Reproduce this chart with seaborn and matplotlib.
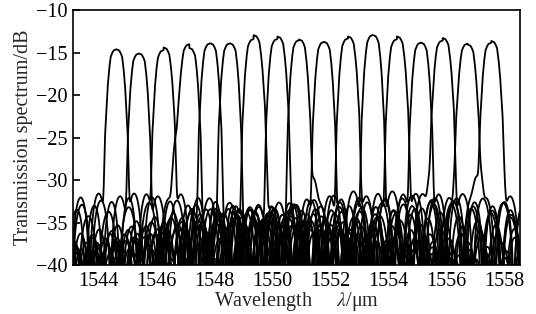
import numpy as np
import pandas as pd
import matplotlib
matplotlib.use("Agg")
import matplotlib.pyplot as plt
import seaborn as sns

# ---- data ----
channel_center_nm = [1544.61, 1545.39, 1546.24, 1547.13, 1547.85, 1548.53, 1549.35, 1550.17,
                     1550.92, 1551.78, 1552.61, 1553.47, 1554.30, 1555.13, 1555.88, 1556.74, 1557.56]
peak_db = [-14.7, -15.2, -14.8, -14.55, -13.96, -13.96, -13.45, -13.45,
           -13.6, -13.8, -13.4, -13.0, -13.5, -13.9, -13.8, -14.3, -14.0]
sidelobe_db = [-31.5, -31.8, -31.6, -32.0, -33.3, -33.3, -33.0, -32.8,
               -32.5, -32.2, -31.8, -31.2, -31.5, -31.6, -31.5, -32.0, -31.8]
sidelobe_period_nm = [0.62, 0.66, 0.60, 0.70, 0.64, 0.68, 0.62, 0.66,
                      0.70, 0.60, 0.64, 0.68, 0.66, 0.62, 0.70, 0.64, 0.66]
passband_offset_nm = [0.0, 0.10, 0.15, 0.20, 0.25, 0.30, 0.35, 0.39, 0.42, 0.45, 0.50]
passband_drop_db = [0.0, 0.15, 0.45, 0.9, 2.3, 4.3, 7.4, 10.3, 15.0, 22.0, 38.0]
left_shoulder_db = [-60, -60, -60, -24.0, -60, -60, -60, -60,
                    -60, -60, -60, -60, -60, -60, -28.5, -26.0, -31.0]
left_shoulder_nm = [0.4, 0.4, 0.4, 0.55, 0.4, 0.4, 0.4, 0.4,
                    0.4, 0.4, 0.4, 0.4, 0.4, 0.4, 0.50, 0.45, 0.60]
right_shoulder_db = [-60, -60, -26.0, -60, -60, -60, -23.0, -25.0,
                     -30.5, -60, -26.0, -60, -24.5, -60, -23.5, -28.0, -25.5]
right_shoulder_nm = [0.4, 0.4, 0.40, 0.4, 0.4, 0.4, 0.43, 0.42,
                     0.60, 0.4, 0.42, 0.4, 0.42, 0.4, 0.42, 0.50, 0.44]
sidelobe_decay_db_per_nm = 0.75
x_ticks = [1544, 1546, 1548, 1550, 1552, 1554, 1556, 1558]
y_ticks = [-40, -35, -30, -25, -20, -15, -10]

# ---- build spectra ----
wl = np.arange(1543.0, 1558.65, 0.003)
frames = []
for k, c in enumerate(channel_center_nm):
    d = wl - c
    ad = np.abs(d)
    drop = np.interp(ad, passband_offset_nm, passband_drop_db, right=80.0)
    lin = 10 ** ((peak_db[k] - drop) / 10)
    ls = np.where(d < 0, 10 ** (left_shoulder_db[k] / 10) * np.exp(-(ad / left_shoulder_nm[k]) ** 8), 0)
    rs = np.where(d > 0, 10 ** (right_shoulder_db[k] / 10) * np.exp(-(ad / right_shoulder_nm[k]) ** 8), 0)
    env = sidelobe_db[k] - sidelobe_decay_db_per_nm * np.clip(ad - 0.5, 0, None)
    lobe = 10 ** (env / 10) * np.abs(np.cos(np.pi * d / sidelobe_period_nm[k])) ** 1.0
    total = lin + ls + rs + lobe + 1e-7
    frames.append(pd.DataFrame({"wl": wl, "db": 10 * np.log10(total), "ch": k}))
df = pd.concat(frames, ignore_index=True)

# ---- style ----
sns.set_style("ticks")
plt.rcParams["font.family"] = ["Liberation Serif", "DejaVu Serif"]
plt.rcParams["mathtext.fontset"] = "stix"
plt.rcParams["axes.linewidth"] = 1.2

fig = plt.figure(figsize=(5.36, 3.14), dpi=100)
ax = fig.add_axes([0.1356, 0.156, 0.8344, 0.812])
sns.lineplot(data=df, x="wl", y="db", units="ch", estimator=None, color="black",
             lw=1.3, ax=ax, legend=False)

ax.set_xlim(1543.1, 1558.55)
ax.set_ylim(-40, -10)
ax.set_xticks(x_ticks)
ax.set_yticks(y_ticks)
ax.set_yticklabels([f"\u2212{abs(v)}" for v in y_ticks])
ax.tick_params(axis="both", direction="in", length=5, width=1.2, labelsize=14.5, colors="black")
ax.tick_params(axis="x", pad=5)
ax.tick_params(axis="y", pad=4)
ax.set_xlabel("Wavelength     $\\mathit{\\lambda}$/\u03bcm", fontsize=14.5, labelpad=-1)
ax.set_ylabel("Transmission spectrum/dB", fontsize=14.5, labelpad=2)
for s in ax.spines.values():
    s.set_color("black")

fig.savefig("out.png", dpi=100)
